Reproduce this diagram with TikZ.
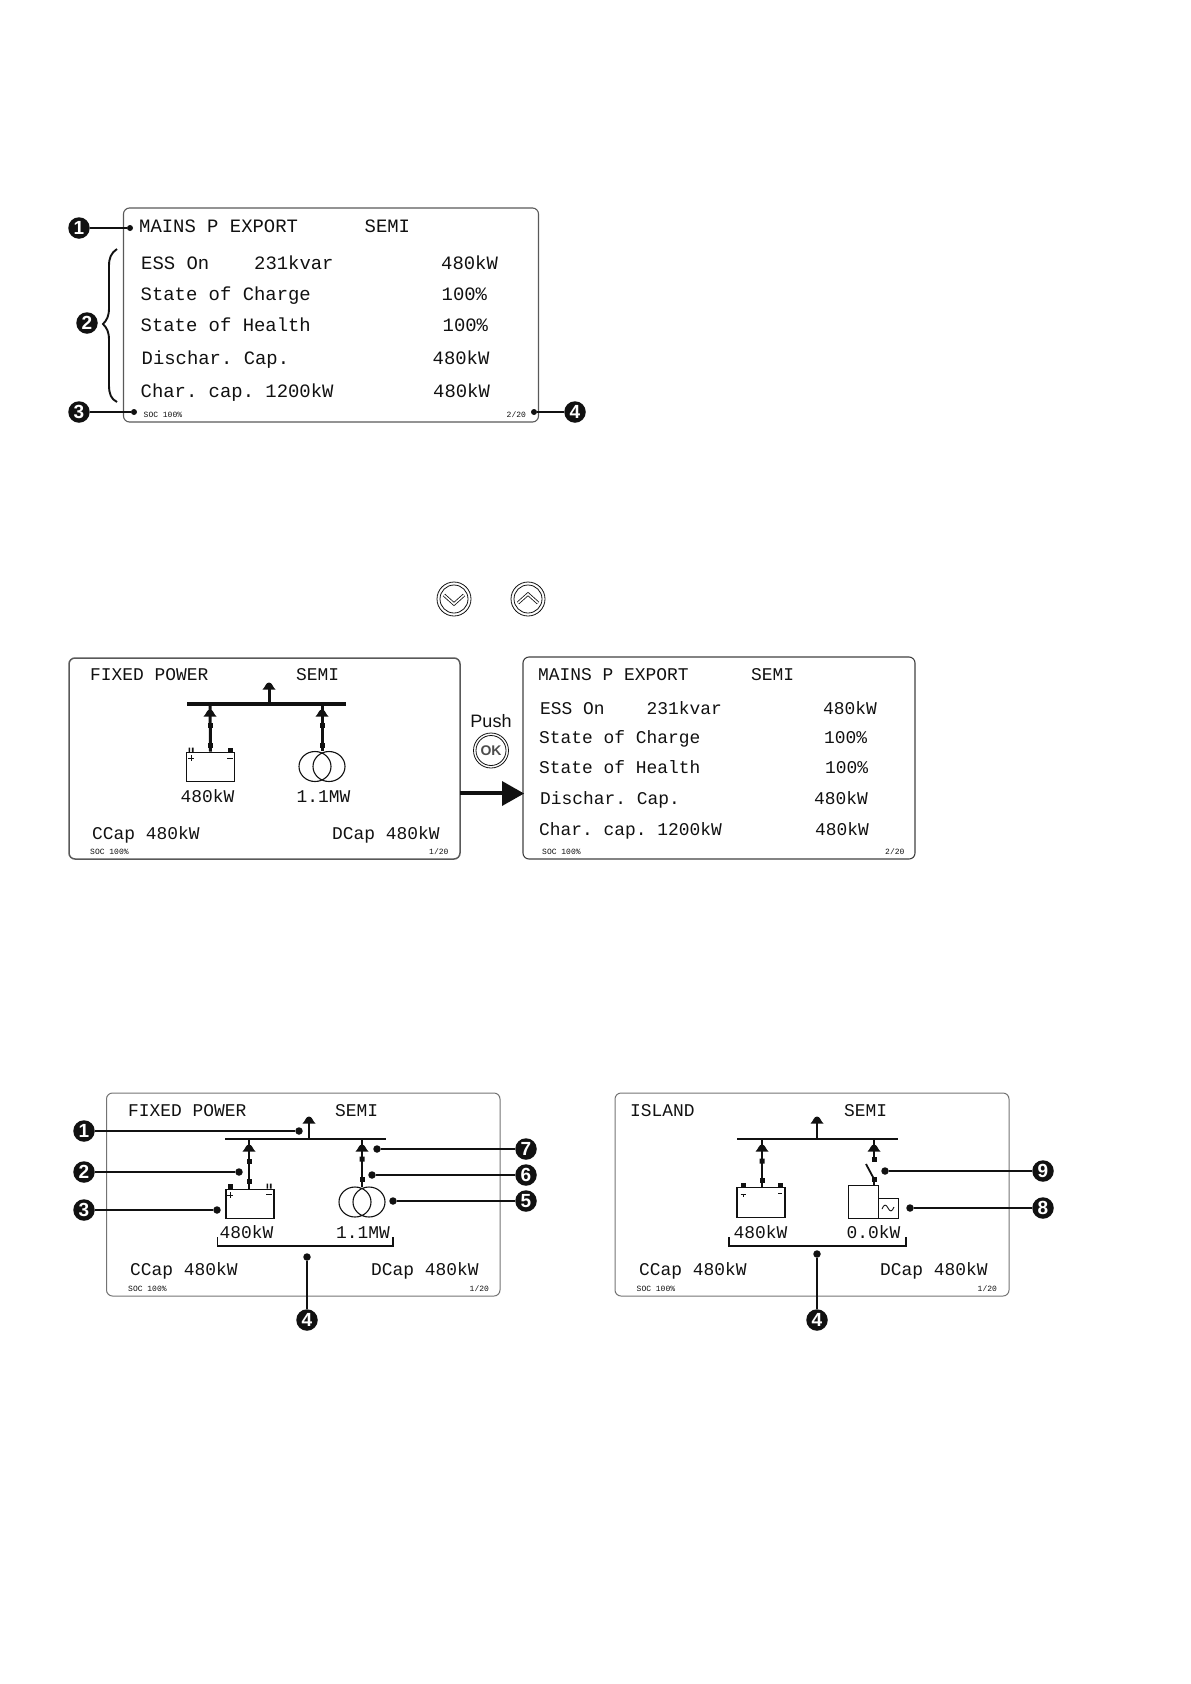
\documentclass[tikz,border=0pt]{standalone}
\usepackage{fontspec}
\setmainfont{Liberation Sans}
\newfontfamily\lcdf{Liberation Mono}
\usetikzlibrary{shapes.geometric}
\definecolor{ink}{HTML}{111111}
\frenchspacing
\tikzset{
  panel/.style={rounded corners=6pt,line width=#1},
  panel/.default=1,
  lcd/.style={anchor=base west,inner sep=0pt,yshift=-6pt,text=ink,font=\frenchspacing\fontsize{17.9}{18}\selectfont\lcdf},
  lcdb/.style={anchor=base west,inner sep=0pt,yshift=-6.3pt,text=ink,font=\frenchspacing\fontsize{18.9}{19}\selectfont\lcdf},
  tiny/.style={anchor=base west,inner sep=0pt,yshift=-2.7pt,text=ink,font=\fontsize{8}{8}\selectfont\lcdf},
  badge/.style={circle,fill=ink,text=white,inner sep=0pt,minimum size=21.5pt,font=\fontsize{19}{19}\selectfont\bfseries},
  pdot/.style={circle,fill=ink,inner sep=0pt,minimum size=7.5pt},
  lead/.style={line width=1.2pt,draw=ink},
  batt/.style={draw=ink,fill=white,rectangle,inner sep=0pt,line width=1.2pt,minimum width=48pt,minimum height=29.5pt},
  btn/.style={circle,draw=ink,line width=.8pt,inner sep=0pt,minimum size=34pt},
  btnin/.style={circle,draw=ink,line width=.8pt,inner sep=0pt,minimum size=28pt},
  chev/.style={draw=ink,line width=.8pt,double=white,double distance=1.6pt,miter limit=10},
  bus/.style={draw=ink,line width=#1},
  bus/.default=1.5pt
}
\newcommand\mydome[2]{\fill[ink] (#1-6.5,#2+2.5) -- (#1+6.5,#2+2.5) .. controls (#1+4,#2+1) and (#1+3.5,#2-4.5) .. (#1,#2-4.5) .. controls (#1-3.5,#2-4.5) and (#1-4,#2+1) .. (#1-6.5,#2+2.5) -- cycle;}
\newcommand\mysq[2]{\fill[ink] (#1-2.5,#2-2.5) rectangle (#1+2.5,#2+2.5);}
\newcommand\mysplit[2]{\fill[ink] (#1-2.5,#2-2.5) rectangle (#1-.8,#2+2.5) (#1+.8,#2-2.5) rectangle (#1+2.5,#2+2.5);}
\newcommand\myxf[3]{\draw[ink,line width=1.1pt] (#1+16,#2) ellipse (16pt and 15pt) (#1+30,#2) ellipse (16pt and 15pt);}
\begin{document}
\begin{tikzpicture}[x=1pt,y=-1pt]
\useasboundingbox (0,0) rectangle (1191,1684);

% ---------- top panel
\draw[panel=1.1,draw=black!65] (123.5,208) rectangle (538.5,422);
\node[lcdb] (a1) at (139,226.5) {MAINS P EXPORT};
\node[lcdb] (a2) at (364.5,226.5) {SEMI};
\node[lcdb] (a3) at (141,263) {ESS On};
\node[lcdb] (a4) at (254,263) {231kvar};
\node[lcdb] (a5) at (441,263) {480kW};
\node[lcdb] (a6) at (140.5,294) {State of Charge};
\node[lcdb] (a7) at (441.5,294) {100\%};
\node[lcdb] (a8) at (140.5,325.5) {State of Health};
\node[lcdb] (a9) at (442.5,325.5) {100\%};
\node[lcdb] (a10) at (141.5,358) {Dischar. Cap.};
\node[lcdb] (a11) at (432.5,358) {480kW};
\node[lcdb] (a12) at (140.5,391) {Char. cap. 1200kW};
\node[lcdb] (a13) at (433,391) {480kW};
\node[tiny] (a14) at (143.5,414.5) {SOC 100\%};
\node[tiny] (a15) at (506.5,414.5) {2/20};
\node[badge] (ab1) at (79,228) {1};
\node[badge] (ab2) at (87,323) {2};
\node[badge] (ab3) at (79,412) {3};
\node[badge] (ab4) at (575,412) {4};
\node[pdot,minimum size=6pt] (ad1) at (130,228) {};
\node[pdot,minimum size=6pt] (ad3) at (134,412) {};
\node[pdot,minimum size=6pt] (ad4) at (534,412) {};
\draw[lead] (ab1) -- (ad1);
\draw[lead,line width=1.5pt] (ab3) -- (ad3);
\draw[lead,line width=1.5pt] (ab4) -- (ad4);
\draw[ink,line width=1.9pt] (117,249) .. controls (111,253) and (109,258) .. (109,266) -- (109,308) .. controls (109,316) and (107,320) .. (103,324) .. controls (107,328) and (109,332) .. (109,340) -- (109,385) .. controls (109,394) and (111,399) .. (117,402);

% ---------- buttons
\node[btn] (bd) at (454,599) {};
\node[btnin] (bdi) at (454,599) {};
\draw[chev] (444,595) -- (454,604) -- (464,595);
\node[btn] (bu) at (528,599) {};
\node[btnin] (bui) at (528,599) {};
\draw[chev] (518,603) -- (528,594) -- (538,603);

% ---------- middle left panel
\draw[panel=1.5,draw=black!65] (69,658) rectangle (460,859);
\node[lcd] (b1) at (90,674) {FIXED POWER};
\node[lcd] (b2) at (296,674) {SEMI};
\node[lcd] (b3) at (180.5,796) {480kW};
\node[lcd] (b4) at (296.5,796) {1.1MW};
\node[lcd] (b5) at (92,833) {CCap 480kW};
\node[lcd] (b6) at (332,833) {DCap 480kW};
\node[tiny] (b7) at (90,851.5) {SOC 100\%};
\node[tiny] (b8) at (429,851.5) {1/20};
\coordinate (bbl) at (187,704);
\coordinate (bbr) at (346,704);
\coordinate (bbs) at (269,704);
\coordinate (bbs2) at (269,686);
\coordinate (bba) at (210,704);
\coordinate (bbb) at (322,704);
\coordinate (bbt) at (322,751);
\node[batt] (bbat) at (210.5,767) {};
\draw[bus=4pt] (bbl) -- (bbr);
\draw[bus=3pt] (bbs) -- (bbs2);
\draw[bus=3pt] (bba) -- (bbat.north);
\draw[bus=3pt] (bbb) -- (bbt);
\mydome{269}{687}
\mydome{210}{714}
\mydome{322}{714}
\mysq{210}{725}\mysq{322}{725}\mysq{210}{745}\mysq{322}{745}
\mysplit{191}{750}\mysq{230}{750}
\draw[ink,line width=.8pt] (188,758) -- (194,758) (191,755) -- (191,761) (227,758) -- (233,758);
\myxf{299}{766.5}{}

% ---------- middle right panel
\draw[panel=1.1,draw=black!75] (523,657) rectangle (915,859);
\node[lcd] (c1) at (538,674) {MAINS P EXPORT};
\node[lcd] (c2) at (751,674) {SEMI};
\node[lcd] (c3) at (540,708.5) {ESS On};
\node[lcd] (c4) at (646.5,708.5) {231kvar};
\node[lcd] (c5) at (823,708.5) {480kW};
\node[lcd] (c6) at (539,737.5) {State of Charge};
\node[lcd] (c7) at (824,737.5) {100\%};
\node[lcd] (c8) at (539,767.5) {State of Health};
\node[lcd] (c9) at (825,767.5) {100\%};
\node[lcd] (c10) at (540,798) {Dischar. Cap.};
\node[lcd] (c11) at (814,798) {480kW};
\node[lcd] (c12) at (539,829) {Char. cap. 1200kW};
\node[lcd] (c13) at (815,829) {480kW};
\node[tiny] (c14) at (542,851.5) {SOC 100\%};
\node[tiny] (c15) at (885,851.5) {2/20};

% ---------- push arrow
\coordinate (pa) at (460,793);
\coordinate (pb) at (503,793);
\draw[ink,line width=3.5pt] (pa) -- (pb);
\fill[ink] (502,781) -- (524,793.5) -- (502,806) -- cycle;
\node[inner sep=0pt,text=ink,font=\fontsize{18}{18}\selectfont] (push) at (491,721) {Push};
\node[btn,minimum size=35pt] (okb) at (491,750.5) {};
\node[btnin,minimum size=30pt,text=black!70,font=\fontsize{14}{14}\selectfont\bfseries] (oki) at (491,750.5) {OK};

% ---------- lower left panel
\draw[panel=1,draw=black!55] (106.5,1093) rectangle (500,1296);
\node[lcd] (d1) at (128,1110) {FIXED POWER};
\node[lcd] (d2) at (335,1110) {SEMI};
\node[lcd] (d3) at (219.5,1232.5) {480kW};
\node[lcd] (d4) at (336,1232.5) {1.1MW};
\node[lcd] (d5) at (130,1269) {CCap 480kW};
\node[lcd] (d6) at (371,1269) {DCap 480kW};
\node[tiny] (d7) at (128,1288.5) {SOC 100\%};
\node[tiny] (d8) at (469.5,1288.5) {1/20};
\coordinate (dbl) at (225,1139);
\coordinate (dbr) at (386,1139);
\coordinate (dbs) at (309,1139);
\coordinate (dbs2) at (309,1122);
\coordinate (dba) at (249,1139);
\coordinate (dbb) at (362,1139);
\coordinate (dbt) at (362,1187);
\node[batt] (dbat) at (250,1204) {};
\draw[bus] (dbl) -- (dbr);
\draw[bus=2.2pt] (dbs) -- (dbs2);
\draw[bus] (dba) -- (dba |- dbat.north);
\draw[bus] (dbb) -- (dbt);
\mydome{309}{1121}
\mydome{249}{1149}
\mydome{362}{1149}
\mysq{249}{1161}\mysq{249}{1181}\mysplit{362}{1159}\mysq{362}{1179}
\mysq{230}{1186}\mysplit{269}{1186}
\draw[ink,line width=1pt] (227,1195) -- (233,1195) (230,1192) -- (230,1198) (266,1194) -- (272,1194);
\myxf{339}{1202}{}
\draw[bus=1.1pt] (217.5,1237) |- (393,1246) -- (393,1237);
\node[badge] (db1) at (84,1131) {1};
\node[badge] (db2) at (84,1172) {2};
\node[badge] (db3) at (84,1210) {3};
\node[badge] (db4) at (307,1320) {4};
\node[badge] (db5) at (526,1201) {5};
\node[badge] (db6) at (526,1175) {6};
\node[badge] (db7) at (526,1149) {7};
\node[pdot] (dd1) at (299,1131) {};
\node[pdot] (dd2) at (239,1172) {};
\node[pdot] (dd3) at (217,1210) {};
\node[pdot] (dd4) at (307,1257) {};
\node[pdot] (dd5) at (393,1201) {};
\node[pdot] (dd6) at (372,1175) {};
\node[pdot] (dd7) at (377,1149) {};
\draw[lead] (db1) -- (dd1);
\draw[lead] (db2) -- (dd2);
\draw[lead,line width=1.7pt] (db3) -- (dd3);
\draw[lead] (db4) -- (dd4);
\draw[lead] (db5) -- (dd5);
\draw[lead] (db6) -- (dd6);
\draw[lead] (db7) -- (dd7);

% ---------- lower right panel
\draw[panel=1,draw=black!55] (615,1093) rectangle (1009,1296);
\node[lcd] (e1) at (630,1110) {ISLAND};
\node[lcd] (e2) at (844,1110) {SEMI};
\node[lcd] (e3) at (733.5,1232.5) {480kW};
\node[lcd] (e4) at (846.5,1232.5) {0.0kW};
\node[lcd] (e5) at (639,1269) {CCap 480kW};
\node[lcd] (e6) at (880,1269) {DCap 480kW};
\node[tiny] (e7) at (636.5,1288.5) {SOC 100\%};
\node[tiny] (e8) at (977.5,1288.5) {1/20};
\coordinate (ebl) at (737,1139);
\coordinate (ebr) at (898,1139);
\coordinate (ebs) at (817,1139);
\coordinate (ebs2) at (817,1122);
\coordinate (eba) at (762,1139);
\coordinate (ebb) at (874,1139);
\coordinate (ebc) at (874,1159);
\coordinate (ebd) at (874,1179);
\coordinate (ebw) at (866,1164);
\node[batt] (ebat) at (761,1202.5) {};
\node[draw=ink,rectangle,inner sep=0pt,line width=1pt,minimum width=30pt,minimum height=33pt] (egen) at (863,1201.5) {};
\node[draw=ink,rectangle,inner sep=0pt,line width=.9pt,minimum width=20pt,minimum height=20pt] (einv) at (888,1208) {};
\draw[bus] (ebl) -- (ebr);
\draw[bus] (ebs) -- (ebs2);
\draw[bus] (eba) -- (eba |- ebat.north);
\draw[bus] (ebb) -- (ebc);
\draw[bus=1.8pt] (ebw) -- (ebd);
\draw[bus] (ebd) -- (ebd |- egen.north);
\mydome{817}{1121}
\mydome{762}{1149}
\mydome{874}{1149}
\mysplit{762}{1161}\mysq{762}{1180}\mysq{874}{1159}\mysq{874}{1179}
\mysq{743}{1185}\mysq{780}{1185}
\draw[ink,line width=1pt] (740.5,1194) -- (745.5,1194) (743,1194) -- (743,1197) (778,1193.5) -- (782,1193.5);
\draw[ink,line width=.9pt] (882,1209) .. controls (884,1204) and (886,1204) .. (888,1208) .. controls (890,1212) and (892,1212) .. (894,1207);
\draw[bus=1.1pt] (729,1237) |- (906,1246) -- (906,1237);
\node[badge] (eb4) at (817,1320) {4};
\node[badge] (eb8) at (1043,1208) {8};
\node[badge] (eb9) at (1043,1171) {9};
\node[pdot] (ed4) at (817,1254) {};
\node[pdot] (ed8) at (910,1208) {};
\node[pdot] (ed9) at (885,1171) {};
\draw[lead] (eb4) -- (ed4);
\draw[lead] (eb8) -- (ed8);
\draw[lead] (eb9) -- (ed9);
\end{tikzpicture}
\end{document}
